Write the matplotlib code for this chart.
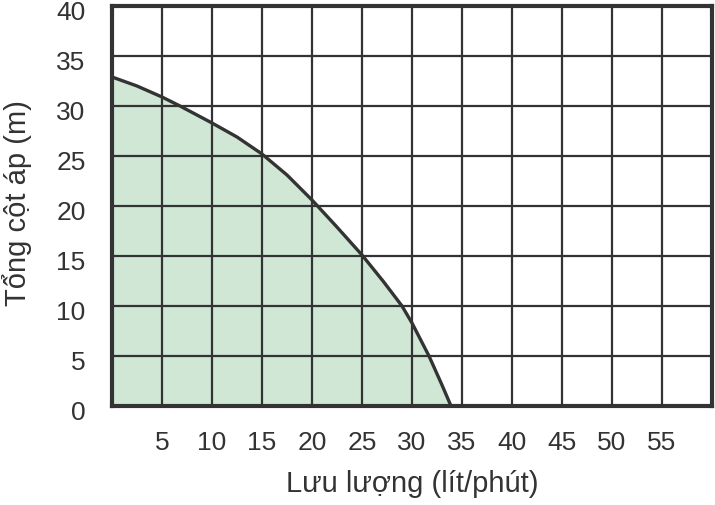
import matplotlib.pyplot as plt
import matplotlib.transforms as mtransforms
import numpy as np

plt.rcParams['font.family'] = ['Liberation Sans', 'DejaVu Sans']

# pump curve
flow = [0, 2.5, 5, 6.8, 10, 12.5, 15, 17.5, 20, 22.4, 25, 27.1, 29, 30, 31.7, 33, 33.9]
head = [32.9, 32.0, 30.9, 30, 28.3, 26.9, 25.2, 23.1, 20.6, 18.0, 15.1, 12.5, 10, 8.3, 5, 2.1, 0]

x_ticks = [5, 10, 15, 20, 25, 30, 35, 40, 45, 50, 55]
y_ticks = [0, 5, 10, 15, 20, 25, 30, 35, 40]

dark = '#333333'
fig = plt.figure(figsize=(7.15, 5.06), dpi=100)
ax = fig.add_axes([0.1566, 0.1957, 0.8392, 0.7905])

ax.fill_between(flow, head, 0, color='#d0e7d5', zorder=1, linewidth=0)
ax.plot(flow, head, color=dark, linewidth=2.4, zorder=3,
        solid_capstyle='butt', solid_joinstyle='round')

ax.set_xlim(0, 60)
ax.set_ylim(0, 40)
ax.set_xticks(np.arange(0, 61, 5))
ax.set_yticks(y_ticks)
ax.set_xticklabels(['' if t not in x_ticks else str(t) for t in range(0, 61, 5)])
ax.grid(True, color=dark, linewidth=1.6, zorder=2)
ax.set_axisbelow(False)
for s in ax.spines.values():
    s.set_linewidth(3)
    s.set_color(dark)
    s.set_zorder(4)

ax.tick_params(length=0, labelsize=19, colors=dark)
ax.tick_params(axis='x', pad=17)
ax.tick_params(axis='y', pad=19)
# y tick labels sit a little below their grid lines
shift = mtransforms.ScaledTranslation(0, -4 / 100, fig.dpi_scale_trans)
for lab in ax.get_yticklabels():
    lab.set_transform(lab.get_transform() + shift)

ax.set_xlabel('Lưu lượng (lít/phút)', fontsize=21, color=dark)
ax.set_ylabel('Tổng cột áp (m)', fontsize=21, color=dark)
ax.xaxis.set_label_coords(0.5, -0.158)
ax.yaxis.set_label_coords(-0.134, 0.51)

fig.savefig('out.png', dpi=100)
